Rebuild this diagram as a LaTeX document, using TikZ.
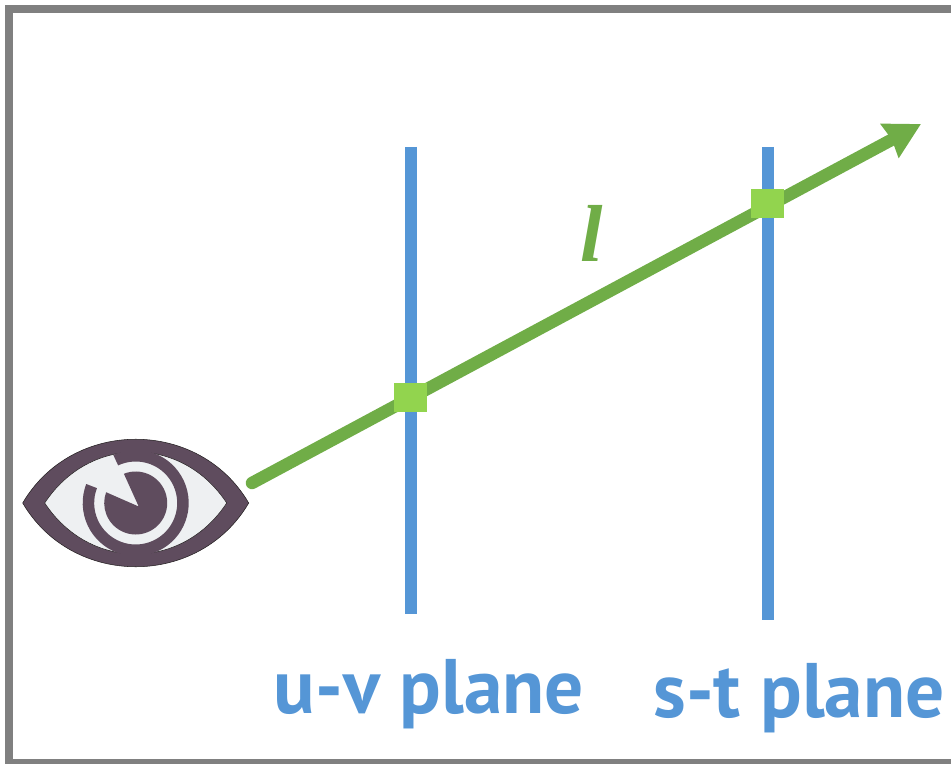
\documentclass[tikz,border=0pt]{standalone}
\usepackage{fontspec}
\setmainfont{PT Sans}
\newfontfamily\lfont{Liberation Serif}
\usepackage{xcolor}
\definecolor{framegray}{RGB}{128,128,128}
\definecolor{planeblue}{RGB}{85,150,214}
\definecolor{raygreen}{RGB}{112,173,71}
\definecolor{hitgreen}{RGB}{146,212,78}
\definecolor{eyedark}{RGB}{95,76,94}
\definecolor{eyelight}{RGB}{238,240,242}
\definecolor{eyeline}{RGB}{35,31,32}
\usetikzlibrary{arrows.meta, calc}

\begin{document}
\begin{tikzpicture}[
    framebox/.style={draw=framegray, line width=0.16cm},
    planeline/.style={draw=planeblue, line width=0.24cm},
    planelabel/.style={font=\fontsize{44}{44}\selectfont\bfseries, text=planeblue, anchor=base},
    rayline/.style={-{Stealth[length=7mm, width=7.4mm, inset=0.4mm]}, draw=raygreen, line width=0.25cm, line cap=round},
    hitbox/.style={rectangle, fill=hitgreen, minimum width=0.66cm, minimum height=0.58cm, inner sep=0pt},
    eyeshape/.style={fill=eyedark, draw=eyeline, line width=0.3pt},
    eyewhite/.style={fill=eyelight, draw=eyeline, line width=0.3pt},
    eyering/.style={fill=eyedark},
  ]
    \clip (0,0) rectangle (19.02,15.26);

    % --- Frame ---
    \draw[framebox] (0.18,0) rectangle (19.3,15.08);

    % --- Planes ---
    \coordinate (uvtop) at (8.21,12.32);
    \coordinate (uvbot) at (8.21,2.98);
    \coordinate (sttop) at (15.36,12.32);
    \coordinate (stbot) at (15.36,2.86);
    \draw[planeline] (uvtop) -- (uvbot);
    \draw[planeline] (sttop) -- (stbot);

    % --- Ray ---
    \coordinate (raystart) at (5.04,5.6);
    \coordinate (raytip) at (18.42,12.78);
    \draw[rayline] (raystart) -- (raytip);
    \node[hitbox] (uvhit) at (8.21,7.32) {};
    \node[hitbox] (sthit) at (15.35,11.19) {};
    \node[font=\fontsize{46}{46}\selectfont\lfont\bfseries\itshape, text=raygreen] (raylabel) at (11.84,10.6) {l};

    % --- Eye ---
    \coordinate (eyec) at (2.714,5.2);
    \draw[eyeshape] (0.454,5.2) .. controls (1.45,6.9) and (3.98,6.9) .. (4.974,5.2)
      .. controls (3.98,3.5) and (1.45,3.5) .. cycle;
    \draw[eyewhite] (0.894,5.2) .. controls (1.79,6.56) and (3.64,6.56) .. (4.534,5.2)
      .. controls (3.64,3.84) and (1.79,3.84) .. cycle;
    \fill[eyering] ($(eyec)+(115:1.06)$) arc[start angle=115, end angle=-201, radius=1.06]
      -- ($(eyec)+(159:0.83)$) arc[start angle=159, end angle=475, radius=0.83] -- cycle;
    \fill[eyering] ($(eyec)+(112:0.63)$) arc[start angle=112, end angle=-200, radius=0.63]
      -- ($(eyec)+(0.06,-0.07)$) -- cycle;

    % --- Labels ---
    \node[planelabel] (uvlabel) at (8.58,0.986) {u-v plane};
    \node[planelabel] (stlabel) at (15.98,0.906) {s-t plane};
\end{tikzpicture}
\end{document}
